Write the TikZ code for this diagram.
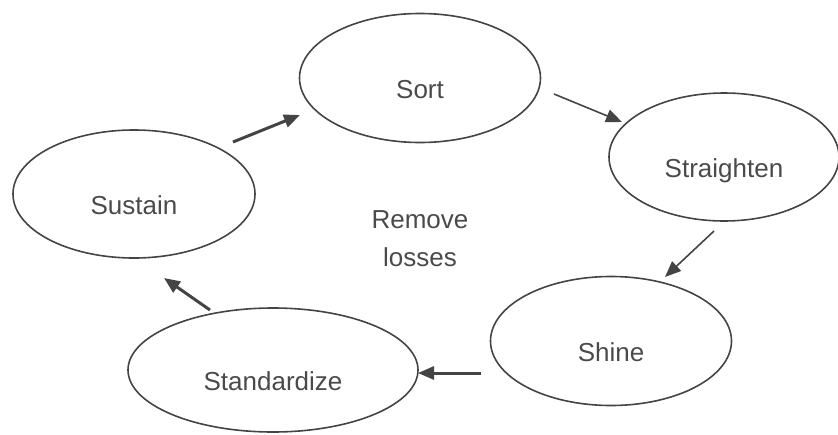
\documentclass[tikz,border=0pt]{standalone}
\usepackage{fontspec}
\setmainfont{Liberation Sans}
\usepackage{tikz}
\usetikzlibrary{arrows.meta,positioning,shapes.geometric}

\definecolor{linegray}{HTML}{444444}
\definecolor{textgray}{HTML}{4A4A4A}

\begin{document}
\begin{tikzpicture}[auto,>={Triangle[length=16pt,width=13pt]},x=1pt,y=-1pt]
	\tikzstyle{phase} = [draw=linegray, ellipse, line width=1.6pt, inner sep=0pt, text height=40pt, text depth=0pt, font=\fontsize{26}{38}\selectfont, text=textgray]
	\tikzstyle{thickarrow} = [->, draw=linegray, line width=3pt]
	\tikzstyle{thinarrow} = [->, draw=linegray, line width=1.6pt]
	
	\useasboundingbox (0,0) rectangle (838,434);
	
	\node[phase, minimum width=241pt, minimum height=129pt] (sort) at (420,78) {Sort};
	\node[phase, minimum width=230pt, minimum height=128pt] (straighten) at (724,157) {Straighten};
	\node[phase, minimum width=241pt, minimum height=129pt] (shine) at (611,341) {Shine};
	\node[phase, minimum width=290pt, minimum height=124pt] (standardize) at (273,370) {Standardize};
	\node[phase, minimum width=242pt, minimum height=128pt] (sustain) at (134,194) {Sustain};
	
	\node[align=center, font=\fontsize{26}{38}\selectfont, text=textgray] (losses) at (420,239) {Remove\\losses};
	
	\coordinate (sus1) at (233,142);
	\coordinate (sor0) at (300,115);
	\coordinate (sor1) at (554,94);
	\coordinate (str0) at (622,122);
	\coordinate (str1) at (714,231);
	\coordinate (shi0) at (665,277);
	\coordinate (shi1) at (481,373);
	\coordinate (sta0) at (418,373);
	\coordinate (sta1) at (210,310);
	\coordinate (sus0) at (164,278);
	
	\draw [thickarrow] (sus1) -- (sor0);
	\draw [thinarrow] (sor1) -- (str0);
	\draw [thinarrow] (str1) -- (shi0);
	\draw [thickarrow] (shi1) -- (sta0);
	\draw [thickarrow] (sta1) -- (sus0);
	
\end{tikzpicture}
\end{document}
